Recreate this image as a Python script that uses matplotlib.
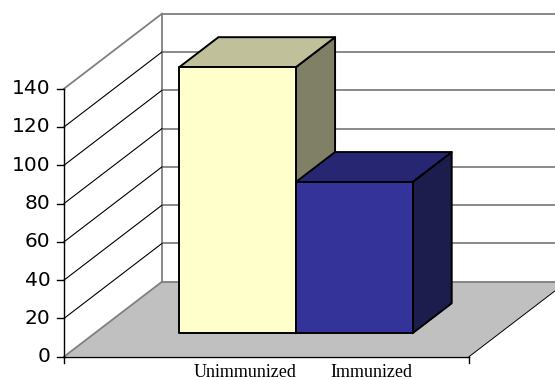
import matplotlib
matplotlib.use("Agg")
import matplotlib.pyplot as plt
from matplotlib.patches import Polygon

# Data
categories = ["Unimmunized", "Immunized"]
values = [139, 79]
y_ticks = [0, 20, 40, 60, 80, 100, 120, 140]

# Colours for each bar: front, top, side
front_colors = ["#FFFFCC", "#333399"]
top_colors = ["#C0C09A", "#262673"]
side_colors = ["#808066", "#1C1C4D"]

# Oblique projection of the 3D box (pixel space)
X0, Y0 = 64.0, 356.7          # front-left corner of floor
FLOOR_W = 405.0               # floor width along the category axis
PX_PER_UNIT = 38.29 / 20.0    # vertical pixels per value unit
DEPTH_DX, DEPTH_DY = 98.0, 75.0
VMAX = 140

BAR_W = 0.288                 # fraction of floor width per bar
CLUSTER_CENTER = 0.497
BAR_D0, BAR_D1 = 0.312, 0.712 # bar depth range (0=front, 1=back)

GRID = "#808080"
FLOOR = "#C0C0C0"


def proj(u, v, d):
    x = X0 + u * FLOOR_W + d * DEPTH_DX
    y = Y0 - v * PX_PER_UNIT - d * DEPTH_DY
    return (x, y)


fig = plt.figure(figsize=(5.55, 3.8), dpi=100)
ax = fig.add_axes([0, 0, 1, 1])
ax.set_xlim(0, 555)
ax.set_ylim(380, 0)
ax.axis("off")

# Floor
floor = Polygon([proj(0, 0, 0), proj(1, 0, 0), proj(1, 0, 1), proj(0, 0, 1)],
                closed=True, facecolor=FLOOR, edgecolor="none", zorder=1)
ax.add_patch(floor)

# Back wall gridlines
for v in y_ticks:
    p0, p1 = proj(0, v, 1), proj(1, v, 1)
    ax.plot([p0[0], p1[0]], [p0[1], p1[1]], color=GRID, lw=1.3, zorder=2,
            solid_capstyle="butt")
b0, b1 = proj(0, 0, 1), proj(0, VMAX, 1)
ax.plot([b0[0], b1[0]], [b0[1], b1[1]], color=GRID, lw=1.3, zorder=2)

# Left wall: diagonals
for v in y_ticks:
    p0, p1 = proj(0, v, 0), proj(0, v, 1)
    if v in (0, VMAX):
        ax.plot([p0[0], p1[0]], [p0[1], p1[1]], color=GRID, lw=1.3, zorder=2)
    else:
        ax.plot([p0[0], p1[0]], [p0[1], p1[1]], color="black", lw=0.8, zorder=2)

# Floor right edge
p0, p1 = proj(1, 0, 0), proj(1, 0, 1)
ax.plot([p0[0], p1[0]], [p0[1], p1[1]], color="black", lw=0.7, zorder=2)

# Value axis and category axis lines
p0, p1 = proj(0, 0, 0), proj(0, VMAX, 0)
ax.plot([p0[0], p1[0]], [p0[1], p1[1]], color="black", lw=1.0, zorder=3)
p0, p1 = proj(0, 0, 0), proj(1, 0, 0)
ax.plot([p0[0], p1[0]], [p0[1], p1[1]], color="black", lw=1.0, zorder=3)

# Value ticks and labels
for v in y_ticks:
    x, y = proj(0, v, 0)
    ax.plot([x - 7, x], [y, y], color="black", lw=1.0, zorder=3)
    ax.text(x - 13.5, y, str(v), ha="right", va="center",
            fontsize=14.5, family="DejaVu Sans", color="black")

# Category axis end ticks
for u in (0, 1):
    x, y = proj(u, 0, 0)
    ax.plot([x, x], [y, y + 6.5], color="black", lw=1.0, zorder=3)

# Bars, drawn left to right
left0 = CLUSTER_CENTER - BAR_W * len(values) / 2
for i, val in enumerate(values):
    u0 = left0 + i * BAR_W
    u1 = u0 + BAR_W
    front = [proj(u0, 0, BAR_D0), proj(u1, 0, BAR_D0),
             proj(u1, val, BAR_D0), proj(u0, val, BAR_D0)]
    top = [proj(u0, val, BAR_D0), proj(u1, val, BAR_D0),
           proj(u1, val, BAR_D1), proj(u0, val, BAR_D1)]
    side = [proj(u1, 0, BAR_D0), proj(u1, 0, BAR_D1),
            proj(u1, val, BAR_D1), proj(u1, val, BAR_D0)]
    z = 4 + i
    for pts, col in ((side, side_colors[i]), (top, top_colors[i]),
                     (front, front_colors[i])):
        ax.add_patch(Polygon(pts, closed=True, facecolor=col,
                             edgecolor="black", lw=1.4, joinstyle="round",
                             zorder=z))

# Category labels
label_x = [245.3, 371.7]
for lab, x in zip(categories, label_x):
    ax.text(x, 377.0, lab, ha="center", va="baseline", fontsize=13.0,
            family="Liberation Serif", color="black")

fig.savefig("out.png", dpi=100)
